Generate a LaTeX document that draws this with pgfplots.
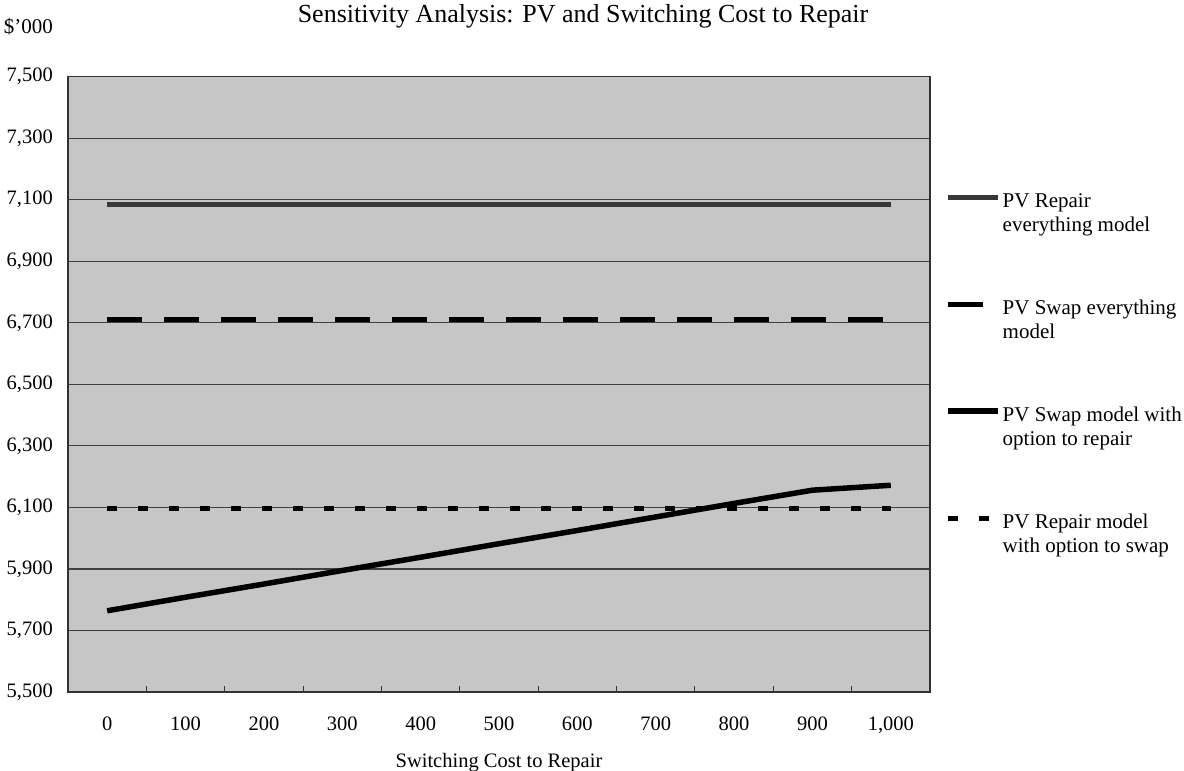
\documentclass[border=0pt]{standalone}
\usepackage{pgfplots}
\pgfplotsset{compat=1.18}
\usepackage{fontspec}
\setmainfont{Liberation Serif}
\newcommand{\lgd}[2]{\begin{tabular}[t]{@{}l@{}}#1\\#2\end{tabular}}
\begin{document}
\begin{tikzpicture}
\useasboundingbox (-68pt,-79pt) rectangle (1116pt,692pt);
\begin{axis}[
  at={(0pt,0pt)}, anchor=south west,
  width=862pt, height=615.3pt, scale only axis,
  xmin=-0.5, xmax=10.5, ymin=5500, ymax=7500,
  xtick={0,1,2,3,4,5,6,7,8,9,10},
  xticklabels={0,100,200,300,400,500,600,700,800,900,{1,000}},
  minor xtick={0.5,1.5,2.5,3.5,4.5,5.5,6.5,7.5,8.5,9.5},
  ytick={5500,5700,5900,6100,6300,6500,6700,6900,7100,7300,7500},
  major tick length=0pt, minor tick length=6pt,
  xtick pos=left, ytick pos=left,
  every tick/.style={black!80, line width=1pt},
  ymajorgrids,
  major grid style={black!75, line width=1.2pt},
  axis line style={black!80, line width=1.2pt},
  axis background/.style={fill=gray!45},
  /pgf/number format/assume math mode=true,
  /pgf/number format/1000 sep={,},
  tick label style={font=\fontsize{20.5}{24}\selectfont},
  yticklabel style={anchor=east, inner sep=0pt, xshift=-15pt},
  xticklabel style={anchor=base, inner sep=0pt, yshift=-38pt},
  xlabel={Switching Cost to Repair},
  xlabel style={at={(axis description cs:0.5,0)}, anchor=base, yshift=-75pt, inner sep=0pt, font=\fontsize{20.5}{24}\selectfont},
  ylabel={\$'000},
  ylabel style={rotate=-90, at={(axis description cs:-0.0174,1.0808)}, anchor=east, inner sep=0pt, font=\fontsize{21}{24}\selectfont},
  title={Sensitivity Analysis: PV and Switching Cost to Repair},
  title style={at={(axis description cs:0.5975,1.078)}, anchor=base, inner sep=0pt, font=\fontsize{26}{30}\selectfont},
  legend style={at={(axis description cs:1.0174,0.8151)}, anchor=north west, draw=none, fill=none, inner sep=0pt, row sep=87.5pt, column sep=2pt, font=\fontsize{21}{24}\selectfont, nodes={inner sep=0pt}, cells={anchor=base west}},
  legend image code/.code={\path (0pt,0pt); \draw[#1] (0pt,10pt) -- (50pt,10pt);},
]
\addplot[black!78, line width=5pt] coordinates {(0,7086)(1,7086)(2,7086)(3,7086)(4,7086)(5,7086)(6,7086)(7,7086)(8,7086)(9,7086)(10,7086)};
\addlegendentry{\lgd{PV Repair}{everything model}}
\addplot[black, line width=5pt, dash pattern=on 35pt off 22pt] coordinates {(0,6710)(1,6710)(2,6710)(3,6710)(4,6710)(5,6710)(6,6710)(7,6710)(8,6710)(9,6710)(10,6710)};
\addlegendentry{\lgd{PV Swap everything}{model}}
\addplot[black, line width=5.5pt] coordinates {(0,5764)(1,5808)(2,5851)(3,5895)(4,5938)(5,5982)(6,6025)(7,6069)(8,6113)(9,6156)(10,6172)};
\addlegendentry{\lgd{PV Swap model with}{option to repair}}
\addplot[black, line width=5pt, dash pattern=on 10pt off 21pt] coordinates {(0,6095)(1,6095)(2,6095)(3,6095)(4,6095)(5,6095)(6,6095)(7,6095)(8,6095)(9,6095)(10,6095)};
\addlegendentry{\lgd{PV Repair model}{with option to swap}}
\end{axis}
\end{tikzpicture}
\end{document}
